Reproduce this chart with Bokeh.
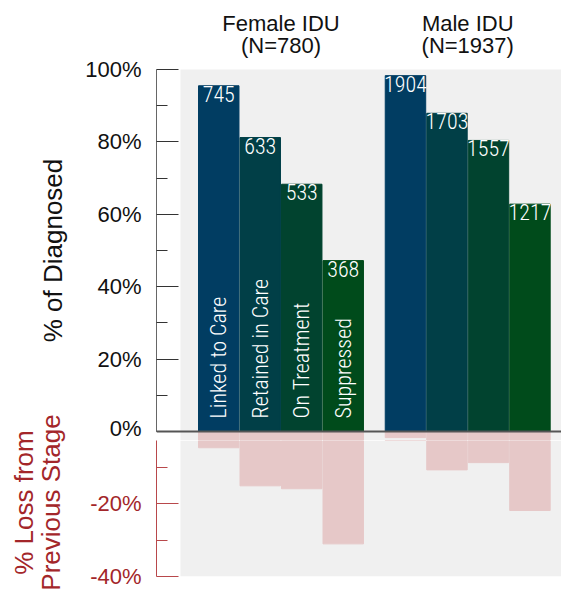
import math
from bokeh.plotting import figure
from bokeh.models import (ColumnDataSource, Range1d, FixedTicker, BoxAnnotation,
                          Span, PrintfTickFormatter)
from bokeh.layouts import column, row
from bokeh.embed import file_html
from bokeh.resources import INLINE
from bokeh.core.properties import value

# ---------------- data ----------------
stages = ["Linked to Care", "Retained in Care", "On Treatment", "Suppressed"]
stage_colors = ["#013d62", "#013f47", "#01432f", "#004b1b"]
groups = ["Female IDU", "Male IDU"]
group_n = ["(N=780)", "(N=1937)"]
female_counts = [745, 633, 533, 368]
male_counts = [1904, 1703, 1557, 1217]
female_pct = [95.5, 81.2, 68.3, 47.2]
male_pct = [98.3, 87.9, 80.4, 62.8]
female_loss = [4.5, 15.0, 15.8, 31.0]
male_loss = [1.7, 10.6, 8.6, 21.8]
pos_ticks = [0, 20, 40, 60, 80, 100]
pos_minor = [10, 30, 50, 70, 90]
neg_ticks = [-40, -20]
neg_minor = [-30, -10]
y_title_top = "% of Diagnosed"
y_title_bottom = ["% Loss from", "Previous Stage"]

# ---------------- style / layout constants ----------------
RED = "#a3262a"
RED_LINE = "#b8484b"
GRAY_BG = "#f0f0f0"
LOSS_COLOR = "#e6c8c8"
NUM_FONT = "Roboto Condensed Light"
LAB_FONT = "Roboto Condensed Light"
SANS = "Liberation Sans"
TOTAL_H = 592
SIDE_W = 76
LEFT = 80
FRAME_W = 405
X_END = 9.76
SPLIT = -2.5
TOP_END = 119.06
group_start = [1.5, 6.0]
bar_w = 0.975

xs, tops, cols, cnts, losses, stage_lab = [], [], [], [], [], []
for g, (pcts, counts, loss) in enumerate([(female_pct, female_counts, female_loss),
                                          (male_pct, male_counts, male_loss)]):
    for i in range(4):
        xs.append(group_start[g] + i)
        tops.append(pcts[i])
        cols.append(stage_colors[i])
        cnts.append(str(counts[i]))
        losses.append(-loss[i])
        stage_lab.append(stages[i] if g == 0 else "")

src = ColumnDataSource(dict(x=xs, top=tops, color=cols, cnt=cnts,
                            loss=losses, stage=stage_lab))


def base_fig(y0, y1, fh, bt, bb, gray_top=None):
    p = figure(frame_width=FRAME_W, frame_height=fh, x_range=Range1d(0, X_END),
               y_range=Range1d(y0, y1), output_backend="svg", toolbar_location=None,
               title=None, x_axis_location=None, min_border_left=LEFT,
               min_border_right=0, min_border_top=bt, min_border_bottom=bb)
    p.grid.visible = False
    p.outline_line_color = None
    p.background_fill_color = "white"
    p.border_fill_color = "white"
    p.add_layout(BoxAnnotation(left=0.578, top=gray_top, fill_color=GRAY_BG,
                               fill_alpha=1, line_color=None, level="underlay"))
    p.vbar(x="x", top=0, bottom="loss", width=bar_w, color=LOSS_COLOR, source=src)
    ax = p.yaxis[0]
    ax.formatter = PrintfTickFormatter(format="%d%%")
    ax.major_tick_in = 22
    ax.major_tick_out = 0
    ax.minor_tick_in = 11
    ax.minor_tick_out = 0
    ax.major_label_standoff = 15
    ax.major_label_text_font = SANS
    ax.major_label_text_font_size = "22px"
    return p


top = base_fig(SPLIT, TOP_END, 440, 0, 0, gray_top=100)
top.vbar(x="x", top="top", bottom=0, width=bar_w, color="color", source=src)
top.text(x="x", y="top", text="cnt", source=src, text_align="center",
         text_baseline="top", text_color="white", text_font=value(NUM_FONT),
         text_font_size="22px", y_offset=0)
top.text(x="x", y=3.6, text="stage", source=src, angle=math.pi / 2,
         text_align="left", text_baseline="middle", text_color="white",
         text_font=value(LAB_FONT), text_font_size="22px")
top.add_layout(Span(location=0, dimension="width", line_color="#555555", line_width=2))
ax = top.yaxis[0]
ax.ticker = FixedTicker(ticks=pos_ticks, minor_ticks=pos_minor)
ax.bounds = (0, 100)
ax.axis_line_color = "#666666"
ax.major_tick_line_color = "#333333"
ax.minor_tick_line_color = "#333333"
ax.major_label_text_color = "#111111"

gx = [s + 1.5 for s in group_start]
top.text(x=gx, y=[112.6, 112.6], text=groups, text_align="center",
         text_baseline="alphabetic", text_font=value(SANS), text_font_size="22px",
         text_color="#111111")
top.text(x=gx, y=[106.5, 106.5], text=group_n, text_align="center",
         text_baseline="alphabetic", text_font=value(SANS), text_font_size="22px",
         text_color="#111111")

bot = base_fig(-40, SPLIT, 136, 0, TOTAL_H - 440 - 136)
ax = bot.yaxis[0]
ax.ticker = FixedTicker(ticks=neg_ticks, minor_ticks=neg_minor)
ax.axis_line_color = RED_LINE
ax.major_tick_line_color = RED_LINE
ax.minor_tick_line_color = RED_LINE
ax.major_label_text_color = RED

# side panel holding the two rotated y-axis titles (page pixel coordinates)
side = figure(width=SIDE_W, height=TOTAL_H, x_range=Range1d(0, SIDE_W),
              y_range=Range1d(TOTAL_H, 0), output_backend="svg",
              toolbar_location=None, title=None, x_axis_location=None,
              y_axis_location=None, min_border=0)
side.grid.visible = False
side.outline_line_color = None
side.text(x=[52], y=[250], text=[y_title_top], angle=math.pi / 2,
          text_align="center", text_baseline="middle", text_font=value(SANS),
          text_font_size="26px", text_color="#111111")
side.text(x=[23, 50], y=[502, 502], text=y_title_bottom, angle=math.pi / 2,
          text_align="center", text_baseline="middle", text_font=value(SANS),
          text_font_size="26px", text_color=RED)

layout = row(side, column(top, bot, spacing=0), spacing=0)
open("out.html", "w").write(file_html(layout, INLINE))
